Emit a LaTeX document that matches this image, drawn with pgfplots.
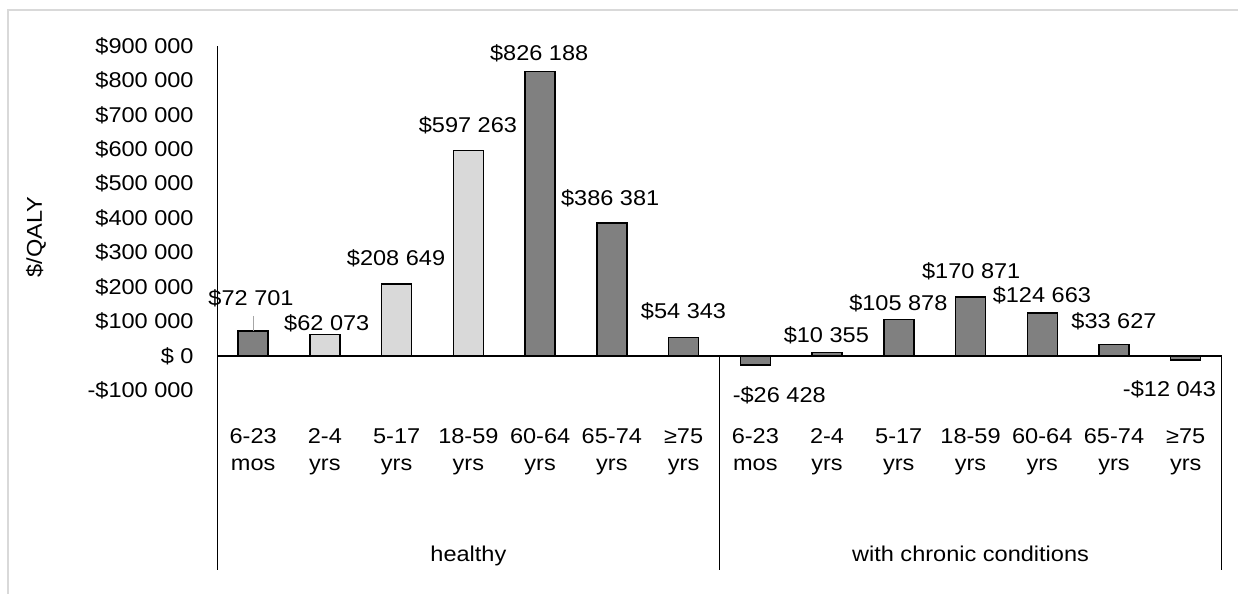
\documentclass[border=0pt]{standalone}
\usepackage{fontspec}
\setmainfont{Liberation Sans}[FakeStretch=1.1]
\usepackage{pgfplots}
\pgfplotsset{compat=1.18}
\definecolor{barDark}{HTML}{808080}
\definecolor{barLight}{HTML}{D9D9D9}
\definecolor{frameGray}{HTML}{D9D9D9}
\definecolor{leader}{HTML}{A6A6A6}
\newcommand{\fsz}{\fontsize{10.7pt}{14pt}\selectfont}
% two-line category label under the axis
\newcommand{\cat}[3]{%
  \node[font=\fsz,anchor=base,inner sep=0pt] at (axis cs:#1,-253500) {#2};
  \node[font=\fsz,anchor=base,inner sep=0pt] at (axis cs:#1,-333000) {#3};}
% value-axis label, right aligned left of the axis line
\newcommand{\ylab}[2]{%
  \node[font=\fsz,anchor=east,inner sep=0pt,xshift=-11.65pt] at (axis cs:0,#1) {#2};}

\begin{document}
\begin{tikzpicture}
\useasboundingbox (0,0) rectangle (619pt,-297pt);
\draw[frameGray, line width=0.75pt] (4pt,-297pt) -- (4pt,-5pt) -- (619pt,-5pt);

\begin{axis}[
  scale only axis, width=502.15pt, height=172.2pt,
  at={(108.65pt,-195.2pt)}, anchor=south west,
  xmin=0, xmax=14, ymin=-100000, ymax=900000,
  axis line style={draw=none}, major tick length=0pt,
  xtick=\empty, ytick=\empty,
  ybar, bar width=15pt,
  clip=false,
]
% healthy (dark), 6-23 mos and 60+; chronic conditions, all ages
\addplot[ybar, bar shift=0pt, fill=barDark, draw=black, line width=0.75pt] coordinates {
  (0.5,72701) (4.5,826188) (5.5,386381) (6.5,54343)
  (7.5,-26428) (8.5,10355) (9.5,105878) (10.5,170871)
  (11.5,124663) (12.5,33627) (13.5,-12043)};
% healthy (light), 2-59 yrs
\addplot[ybar, bar shift=0pt, fill=barLight, draw=black, line width=0.75pt] coordinates {
  (1.5,62073) (2.5,208649) (3.5,597263)};

% axis and category separator lines
\draw[black, line width=0.65pt] (axis cs:0,900000) -- (axis cs:0,-621400);
\draw[black, line width=0.65pt] (axis cs:0,0) -- (axis cs:14,0);
\draw[black, line width=0.65pt] (axis cs:7,0) -- (axis cs:7,-621400);
\draw[black, line width=0.65pt] (axis cs:14,0) -- (axis cs:14,-621400);

% value axis labels
\ylab{900000}{\$900 000}
\ylab{800000}{\$800 000}
\ylab{700000}{\$700 000}
\ylab{600000}{\$600 000}
\ylab{500000}{\$500 000}
\ylab{400000}{\$400 000}
\ylab{300000}{\$300 000}
\ylab{200000}{\$200 000}
\ylab{100000}{\$100 000}
\ylab{0}{\$ 0}
\ylab{-100000}{-\$100 000}

% value labels
\draw[leader, line width=0.5pt] (axis cs:0.502,116100) -- (axis cs:0.502,72701);
\node[font=\fsz] at (axis cs:0.47,168400) {\$72 701};
\node[font=\fsz] at (axis cs:1.526,95820) {\$62 073};
\node[font=\fsz] at (axis cs:2.492,283700) {\$208 649};
\node[font=\fsz] at (axis cs:3.494,670700) {\$597 263};
\node[font=\fsz] at (axis cs:4.487,878900) {\$826 188};
\node[font=\fsz] at (axis cs:5.477,457900) {\$386 381};
\node[font=\fsz] at (axis cs:6.499,128600) {\$54 343};
\node[font=\fsz] at (axis cs:7.834,-113200) {-\$26 428};
\node[font=\fsz] at (axis cs:8.49,61000) {\$10 355};
\node[font=\fsz] at (axis cs:9.494,153000) {\$105 878};
\node[font=\fsz] at (axis cs:10.51,244800) {\$170 871};
\node[font=\fsz] at (axis cs:11.495,176000) {\$124 663};
\node[font=\fsz] at (axis cs:12.5,101600) {\$33 627};
\node[font=\fsz] at (axis cs:13.273,-98100) {-\$12 043};

% category labels
\cat{0.5}{6-23}{mos}
\cat{1.5}{2-4}{yrs}
\cat{2.5}{5-17}{yrs}
\cat{3.5}{18-59}{yrs}
\cat{4.5}{60-64}{yrs}
\cat{5.5}{65-74}{yrs}
\cat{6.5}{≥75}{yrs}
\cat{7.5}{6-23}{mos}
\cat{8.5}{2-4}{yrs}
\cat{9.5}{5-17}{yrs}
\cat{10.5}{18-59}{yrs}
\cat{11.5}{60-64}{yrs}
\cat{12.5}{65-74}{yrs}
\cat{13.5}{≥75}{yrs}

% group labels
\node[font=\fsz,anchor=base,inner sep=0pt] at (axis cs:3.5,-598100) {healthy};
\node[font=\fsz,anchor=base,inner sep=0pt] at (axis cs:10.5,-598100) {with chronic conditions};

% y-axis title
\node[font=\fsz, rotate=90] at (axis cs:-2.529,345500) {\$/QALY};
\end{axis}
\end{tikzpicture}
\end{document}
